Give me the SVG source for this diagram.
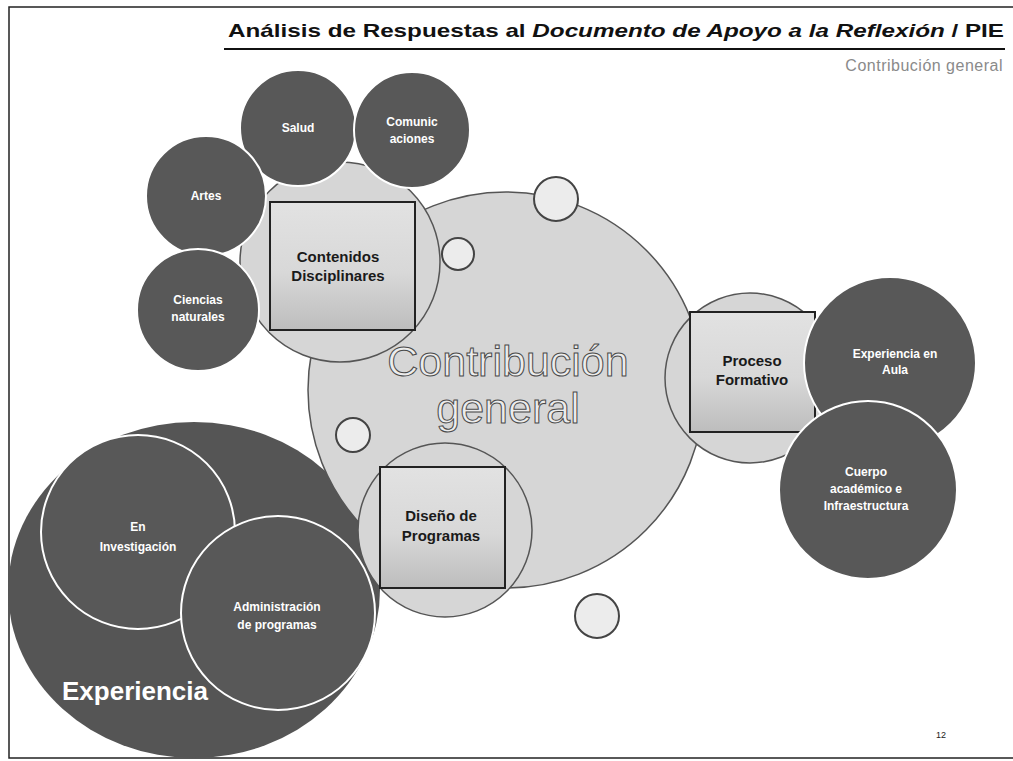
<svg xmlns="http://www.w3.org/2000/svg" width="1013" height="761" viewBox="0 0 1013 761">
<style>
.frame{fill:none;stroke:#222;stroke-width:1.5}
.dark{fill:#585858;stroke:#fff;stroke-width:2}
.light{fill:#d6d6d6;stroke:#555;stroke-width:1.5}
.small{fill:#ececec;stroke:#444;stroke-width:2}
.sq{fill:url(#sqg);stroke:#222;stroke-width:2}
.lbl{font-family:"Liberation Sans",Arial,sans-serif;font-weight:bold;font-size:12px;fill:#fff;text-anchor:middle}
.sqt{font-family:"Liberation Sans",Arial,sans-serif;font-weight:bold;font-size:15px;fill:#1a1a1a;text-anchor:middle}
.big{font-family:"Liberation Sans",Arial,sans-serif;font-size:43px;fill:#ececec;stroke:#4a4a4a;stroke-width:1px;text-anchor:middle}
</style>
<defs>
<linearGradient id="sqg" x1="0" y1="0" x2="0" y2="1">
<stop offset="0" stop-color="#e2e2e2"/>
<stop offset="0.55" stop-color="#d8d8d8"/>
<stop offset="1" stop-color="#bdbdbd"/>
</linearGradient>
</defs>
<rect id="page" class="frame" x="9" y="7" width="1010" height="751"/>
<g id="header">
<text x="228" y="37" font-family="'Liberation Sans',Arial,sans-serif" font-weight="bold" font-size="19" fill="#111" textLength="776" lengthAdjust="spacingAndGlyphs">Análisis de Respuestas al <tspan font-style="italic">Documento de Apoyo a la Reflexión</tspan> / PIE</text>
<line x1="224" y1="49" x2="1005" y2="49" stroke="#111" stroke-width="2"/>
<text x="1003" y="71" font-family="'Liberation Sans',Arial,sans-serif" font-size="16" fill="#8a8a8a" text-anchor="end" letter-spacing="0.5">Contribución general</text>
</g>
<g id="experiencia">
<ellipse cx="194" cy="590" rx="186" ry="168" fill="#555"/>
<text x="62" y="700" font-family="'Liberation Sans',Arial,sans-serif" font-weight="bold" font-size="26" fill="#fff">Experiencia</text>
</g>
<g id="contribucion">
<circle class="light" cx="506" cy="390" r="198"/>
<text class="big" x="508" y="376">Contribución</text>
<text class="big" x="508" y="423">general</text>
</g>
<g id="small-circles">
<circle class="small" cx="556" cy="199" r="22"/>
<circle class="small" cx="458" cy="254" r="16"/>
<circle class="small" cx="353" cy="435" r="17"/>
<circle class="small" cx="597" cy="616" r="22"/>
</g>
<g id="contenidos">
<circle class="light" cx="340" cy="262" r="100" fill="#dcdcdc"/>
<rect class="sq" x="270" y="202" width="145" height="128"/>
<text class="sqt" x="338" y="262">Contenidos</text>
<text class="sqt" x="338" y="281">Disciplinares</text>
</g>
<g id="salud"><circle class="dark" cx="298" cy="128" r="58"/><text class="lbl" x="298" y="132">Salud</text></g>
<g id="comunicaciones"><circle class="dark" cx="412" cy="130" r="58"/><text class="lbl" x="412" y="126">Comunic</text><text class="lbl" x="412" y="143">aciones</text></g>
<g id="artes"><circle class="dark" cx="206" cy="196" r="60"/><text class="lbl" x="206" y="200">Artes</text></g>
<g id="ciencias"><circle class="dark" cx="198" cy="310" r="61"/><text class="lbl" x="198" y="304">Ciencias</text><text class="lbl" x="198" y="321">naturales</text></g>
<g id="proceso">
<circle class="light" cx="750" cy="378" r="85" fill="#dcdcdc"/>
<rect class="sq" x="690" y="312" width="125" height="120"/>
<text class="sqt" x="752" y="366">Proceso</text>
<text class="sqt" x="752" y="385">Formativo</text>
</g>
<g id="aula"><circle class="dark" cx="890" cy="363" r="86"/><text class="lbl" x="895" y="358">Experiencia en</text><text class="lbl" x="895" y="374">Aula</text></g>
<g id="cuerpo"><circle class="dark" cx="868" cy="490" r="89" stroke-width="3"/><text class="lbl" x="866" y="476">Cuerpo</text><text class="lbl" x="866" y="493">académico e</text><text class="lbl" x="866" y="510">Infraestructura</text></g>
<g id="investigacion"><circle class="dark" cx="138" cy="532" r="97" fill="#5a5a5a"/><text class="lbl" x="138" y="531">En</text><text class="lbl" x="138" y="551">Investigación</text></g>
<g id="administracion"><circle class="dark" cx="278" cy="613" r="97" fill="#606060"/><text class="lbl" x="277" y="611">Administración</text><text class="lbl" x="277" y="629">de programas</text></g>
<g id="diseno">
<circle class="light" cx="445" cy="530" r="87" fill="#dcdcdc"/>
<rect class="sq" x="380" y="467" width="125" height="121"/>
<text class="sqt" x="441" y="521">Diseño de</text>
<text class="sqt" x="441" y="541">Programas</text>
</g>
<g id="connectors"></g>
<text x="936" y="738" font-family="'Liberation Sans',Arial,sans-serif" font-size="9" fill="#222">12</text>
</svg>
